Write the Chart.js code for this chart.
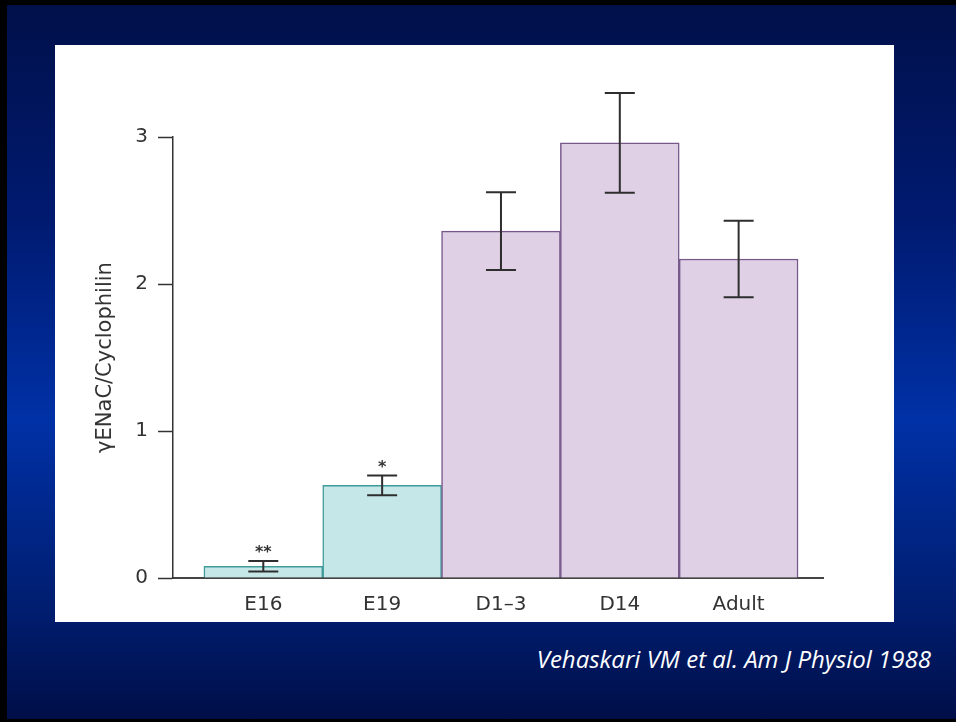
<!DOCTYPE html>
<html>
<head>
<meta charset="utf-8">
<script src="https://cdn.jsdelivr.net/npm/chart.js@4/dist/chart.umd.min.js"></script>
<style>
    html, body {
        margin: 0;
        padding: 0;
        width: 956px;
        height: 722px;
        overflow: hidden;
        background: #000;
    }

    #slide {
        position: absolute;
        left: 7px;
        top: 5px;
        right: 0;
        bottom: 3px;
        background: linear-gradient(to bottom, #00104a 0%, #001a70 30%, #0031a6 58%, #001c6c 86%, #000e48 100%);
    }

    #panel {
        position: absolute;
        left: 55px;
        top: 45px;
        width: 839px;
        height: 577px;
        background: #fff;
    }

    #citation {
        position: absolute;
        right: 25px;
        top: 647px;
        margin: 0;
        font: italic 24px "Open Sans", sans-serif;
        line-height: 1;
        color: #fff;
    }
</style>
</head>
<body>
<div id="slide"></div>
<div id="panel">
    <canvas id="enacChart"></canvas>
</div>
<p id="citation">Vehaskari VM et al. Am J Physiol 1988</p>

<script>
// γENaC / cyclophilin ratio by developmental age
const ages = ["E16", "E19", "D1–3", "D14", "Adult"];
const ratio = [0.08, 0.63, 2.36, 2.96, 2.17];
const ratioErr = [0.035, 0.067, 0.265, 0.34, 0.26];
const significance = ["**", "*", "", "", ""];
const yTicks = [0, 1, 2, 3];

// fetal groups in teal, postnatal in lilac
const fetal = [true, true, false, false, false];

const FONT = "'DejaVu Sans', sans-serif";
const INK = "#333";

// whiskers and the stars above them
const errorBars = {
    id: "errorBars",
    afterDatasetsDraw(chart) {
        const { ctx, scales: { x, y } } = chart;

        ctx.save();
        ctx.strokeStyle = "#2e2e2e";
        ctx.lineWidth = 2;

        ratio.forEach((v, i) => {
            const px = x.getPixelForValue(i);
            const top = y.getPixelForValue(v + ratioErr[i]);
            const bottom = y.getPixelForValue(v - ratioErr[i]);

            ctx.beginPath();
            ctx.moveTo(px, top);
            ctx.lineTo(px, bottom);
            ctx.moveTo(px - 15, top);
            ctx.lineTo(px + 15, top);
            ctx.moveTo(px - 15, bottom);
            ctx.lineTo(px + 15, bottom);
            ctx.stroke();

            if (significance[i]) {
                ctx.fillStyle = INK;
                ctx.font = "bold 16px " + FONT;
                ctx.textAlign = "center";
                ctx.textBaseline = "alphabetic";
                ctx.fillText(significance[i], px, top - 4);
            }
        });

        ctx.restore();
    }
};

new Chart(document.getElementById("enacChart"), {
    type: "bar",
    data: {
        datasets: [{
            data: ratio.map((v, i) => ({ x: i, y: v })),
            backgroundColor: fetal.map(f => f ? "#c6e7e7" : "#dfd0e5"),
            borderColor: fetal.map(f => f ? "#3f9a9a" : "#76588a"),
            borderWidth: 1.5,
            barPercentage: 1,
            categoryPercentage: 1
        }]
    },
    options: {
        responsive: true,
        maintainAspectRatio: false,
        animation: false,
        layout: {
            padding: { left: 0, right: 71, top: 92, bottom: 0 }
        },
        plugins: {
            legend: { display: false },
            tooltip: { enabled: false }
        },
        scales: {
            x: {
                type: "linear",
                offset: false,
                min: -0.76,
                max: 4.71,
                afterBuildTicks: scale => {
                    scale.ticks = ages.map((_, i) => ({ value: i }));
                },
                afterFit: scale => {
                    scale.height = 44;
                },
                ticks: {
                    callback: value => ages[value],
                    color: INK,
                    font: { family: FONT, size: 20 },
                    padding: 15,
                    maxRotation: 0
                },
                grid: {
                    display: true,
                    offset: false,
                    drawOnChartArea: false,
                    drawTicks: false
                },
                border: { color: "#444", width: 2 }
            },
            y: {
                min: 0,
                max: 3,
                afterBuildTicks: scale => {
                    scale.ticks = yTicks.map(v => ({ value: v }));
                },
                afterFit: scale => {
                    scale.width = 118;
                },
                ticks: {
                    color: INK,
                    font: { family: FONT, size: 20 },
                    padding: 10
                },
                grid: {
                    drawOnChartArea: false,
                    tickLength: 15,
                    tickWidth: 1.5,
                    tickColor: "#333"
                },
                border: { color: "#333", width: 1.5 },
                title: {
                    display: true,
                    text: "γENaC/Cyclophilin",
                    color: INK,
                    font: { family: FONT, size: 21 },
                    padding: { top: 38, bottom: 0 }
                }
            }
        }
    },
    plugins: [errorBars]
});
</script>
</body>
</html>
